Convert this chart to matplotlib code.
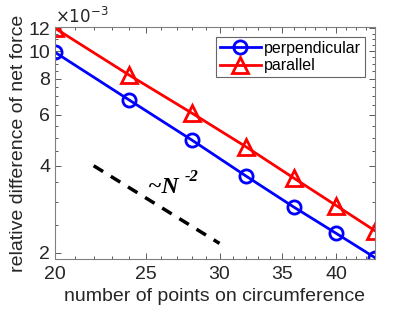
import matplotlib
matplotlib.use("Agg")
import matplotlib.pyplot as plt
from matplotlib.ticker import FixedLocator, MultipleLocator, FuncFormatter, NullFormatter

# data
n_points = [20, 24, 28, 32, 36, 40, 44]
perpendicular = [9.9e-3, 6.77e-3, 4.92e-3, 3.69e-3, 2.88e-3, 2.33e-3, 1.92e-3]
parallel = [12.0e-3, 8.26e-3, 6.1e-3, 4.66e-3, 3.63e-3, 2.91e-3, 2.38e-3]
guide_x = [22, 30]
guide_y = [4.0e-3, 4.0e-3 * (22 / 30) ** 2]
x_ticks = [20, 25, 30, 35, 40]
y_ticks = [2e-3, 4e-3, 6e-3, 8e-3, 10e-3, 12e-3]

plt.rcParams['font.family'] = ['Liberation Sans', 'DejaVu Sans']
fig = plt.figure(figsize=(4.15, 3.12), dpi=100)
ax = fig.add_axes([0.1325, 0.170, 0.771, 0.743])

ax.plot(n_points, perpendicular, '-o', color='#0000ff', lw=2, ms=9.5,
        mfc='none', mew=2, label='perpendicular')
ax.plot(n_points, parallel, '-^', color='#ff0000', lw=2, ms=11,
        mfc='none', mew=2, label='parallel')
ax.plot(guide_x, guide_y, '--', color='k', lw=2.5, dashes=(3.2, 2.6))

ax.set_xscale('log')
ax.set_yscale('log')
ax.set_xlim(20, 44)
ax.set_ylim(1.9e-3, 12.1e-3)

ax.xaxis.set_major_locator(FixedLocator(x_ticks))
ax.xaxis.set_major_formatter(FuncFormatter(lambda v, p: '%d' % round(v)))
ax.xaxis.set_minor_locator(MultipleLocator(1))
ax.xaxis.set_minor_formatter(NullFormatter())
ax.yaxis.set_major_locator(FixedLocator(y_ticks))
ax.yaxis.set_major_formatter(FuncFormatter(lambda v, p: '%d' % round(v * 1e3)))
ax.yaxis.set_minor_locator(MultipleLocator(0.5e-3))
ax.yaxis.set_minor_formatter(NullFormatter())

ax.tick_params(which='both', direction='in', top=True, right=True,
               color='#404040', labelsize=14, labelcolor='#262626')
ax.tick_params(which='major', length=4, width=0.6)
ax.tick_params(axis='x', which='major', pad=5)
ax.tick_params(which='minor', length=2, width=0.6)
for s in ax.spines.values():
    s.set_color('#808080')
    s.set_linewidth(0.8)

ax.set_xlabel('number of points on circumference', fontsize=14, color='#262626', labelpad=4)
ax.set_ylabel('relative difference of net force', fontsize=14, color='#262626', labelpad=1)

ax.text(0.0, 1.005, r'$\times10^{-3}$', transform=ax.transAxes, fontsize=12,
        color='#262626', ha='left', va='bottom')

# ~N^-2 guide label
ax.text(0.290, 0.310, '~N', transform=ax.transAxes, fontsize=17,
        family='Liberation Serif', weight='bold', style='italic',
        ha='left', va='center')
ax.text(0.405, 0.355, '-2', transform=ax.transAxes, fontsize=12,
        family='Liberation Serif', weight='bold', style='italic',
        ha='left', va='center')

leg = ax.legend(loc='upper right', fontsize=11.5, frameon=True, fancybox=False,
                edgecolor='#404040', handlelength=2.6, borderpad=0.25,
                labelspacing=0.15, handletextpad=0.2, borderaxespad=0.6)
leg.get_frame().set_linewidth(0.8)

fig.savefig('out.png', dpi=100)
